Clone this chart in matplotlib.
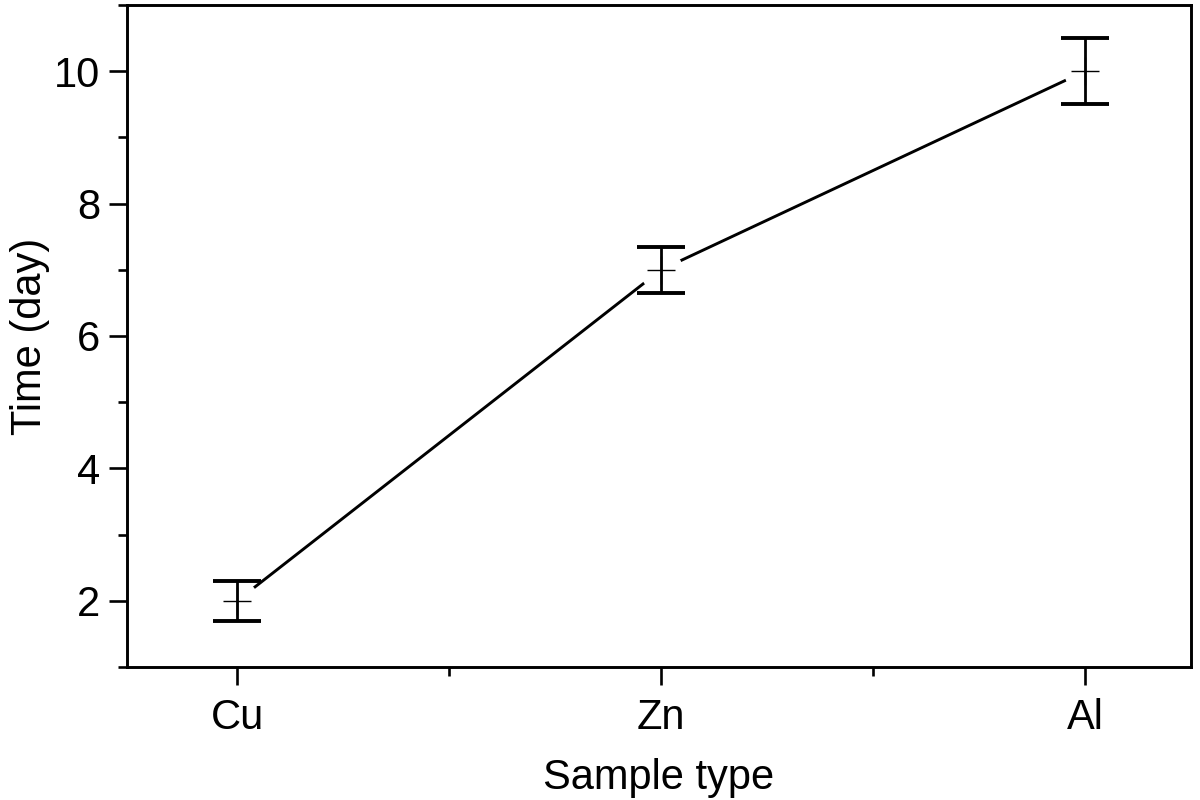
import numpy as np
import matplotlib.pyplot as plt
from matplotlib.ticker import MultipleLocator

plt.rcParams['font.family'] = ['Liberation Sans', 'DejaVu Sans']

# data
samples = ["Cu", "Zn", "Al"]
time_day = [2.0, 7.0, 10.0]
time_err = [0.3, 0.35, 0.5]

x = np.arange(len(samples))

fig = plt.figure(figsize=(12, 8), dpi=100)
ax = fig.add_axes([127 / 1200, 1 - 667 / 800, 1064 / 1200, 662 / 800])

# connecting line, with a gap around each point (origin style)
ax.plot(x, time_day, color="black", lw=2.1, zorder=1)
ax.plot(x, time_day, ls="none", marker="o", ms=31, mfc="white", mec="none", zorder=2)

ax.errorbar(x, time_day, yerr=time_err, fmt="none", ecolor="black",
            elinewidth=2.0, capsize=17, capthick=2.8, zorder=3)
ax.plot(x, time_day, ls="none", marker="+", ms=20, mew=1.0, color="black", zorder=4)

ax.set_xlim(-0.26, 2.25)
ax.set_ylim(1, 11)
ax.set_xticks(x)
ax.set_xticklabels(samples)
ax.xaxis.set_minor_locator(MultipleLocator(0.5))
ax.yaxis.set_minor_locator(MultipleLocator(1))
ax.set_yticks([2, 4, 6, 8, 10])

ax.tick_params(which="major", direction="out", length=13, width=1.9,
               labelsize=30, pad=6)
ax.tick_params(axis="x", which="major", pad=9)
ax.tick_params(which="minor", direction="out", length=6.5, width=1.9)
ax.tick_params(axis="x", which="both", top=False)
ax.tick_params(axis="y", which="both", right=False)
for s in ax.spines.values():
    s.set_linewidth(2.1)

ax.set_xlabel("Sample type", fontsize=30, labelpad=15)
ax.set_ylabel("Time (day)", fontsize=30)
ax.yaxis.set_label_coords(-0.072, 0.5)

fig.savefig("out.png", dpi=100)
